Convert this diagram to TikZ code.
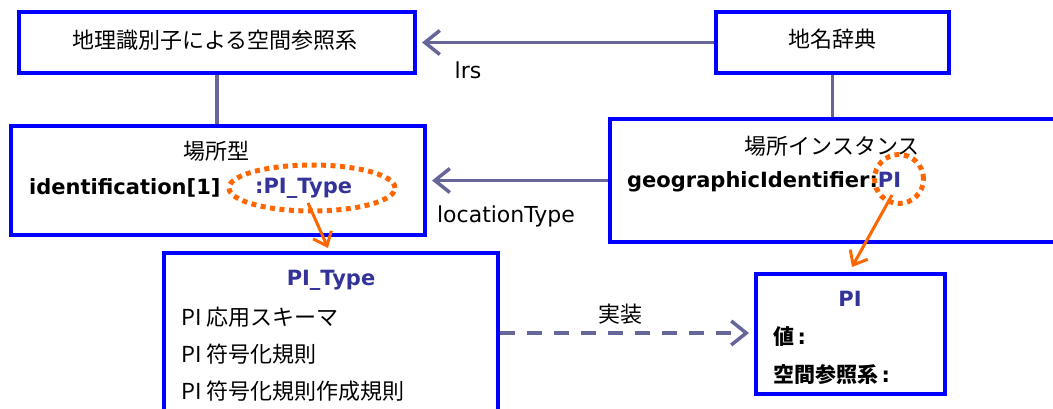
\documentclass[tikz,border=0pt]{standalone}
\usepackage{fontspec}
\setmainfont{DejaVu Sans}
\newfontfamily\jp{Noto Sans CJK JP}
\usetikzlibrary{arrows.meta,shapes.geometric}
\definecolor{boxblue}{HTML}{0000FF}
\definecolor{conncol}{HTML}{666699}
\definecolor{orng}{HTML}{FF6600}
\definecolor{tblue}{HTML}{333399}
\begin{document}
\begin{tikzpicture}[x=1pt,y=-1pt,
  box/.style={draw=boxblue,line width=4pt,inner sep=0,fill=white},
  txt/.style={inner sep=0,font=\fontsize{22}{26}\selectfont},
  btxt/.style={inner sep=0,font=\fontsize{21}{26}\selectfont\bfseries},
  conn/.style={draw=conncol,line width=3.5pt},
  barb/.style={-{Straight Barb[length=15pt,width=24pt,line width=3.5pt]}},
  obarb/.style={draw=orng,line width=3pt,-{Straight Barb[length=12pt,width=20pt,line width=3pt]}},
  dotring/.style={draw=orng,line width=5pt,dash pattern=on 5pt off 4.5pt}]
\useasboundingbox (0,0) rectangle (1053,409);
% boxes
\node[box,minimum width=396pt,minimum height=61pt] (A) at (217,42.5) {};
\node[box,minimum width=233pt,minimum height=61pt] (B) at (832.5,42.5) {};
\node[box,minimum width=414pt,minimum height=109pt] (C) at (218,180.5) {};
\node[box,minimum width=460pt,minimum height=123pt] (D) at (840,180.5) {};
\node[box,minimum width=334pt,minimum height=177pt] (E) at (331,341.5) {};
\node[box,minimum width=189pt,minimum height=120pt] (F) at (850.5,334) {};
% texts
\node[txt] (tA) at (215,40) {\jp 地理識別子による空間参照系};
\node[txt] (tB) at (832,39) {\jp 地名辞典};
\node[txt] (tC) at (216,151) {\jp 場所型};
\node[btxt,anchor=west] (tC1) at (29,188) {identification[1]};
\node[btxt,anchor=west,text=tblue] (tC2) at (255,188) {:PI\_Type};
\node[txt] (tD) at (832,146) {\jp 場所インスタンス};
\node[btxt,anchor=west] (tD1) at (627,182) {geographicIdentifier:\textcolor{tblue}{PI}};
\node[btxt,text=tblue] (tE) at (331,280) {PI\_Type};
\node[txt,anchor=west] (tE1) at (181,317) {\jp PI 応用スキーマ};
\node[txt,anchor=west] (tE2) at (181,354) {\jp PI 符号化規則};
\node[txt,anchor=west] (tE3) at (181,391) {\jp PI 符号化規則作成規則};
\node[btxt,text=tblue] (tF) at (850,299) {PI};
\node[btxt,anchor=west] (tF1) at (773,337) {{\jp\bfseries 値}\,:};
\node[btxt,anchor=west] (tF2) at (773,375) {{\jp\bfseries 空間参照系}\,:};
% orange rings
\node[dotring,ellipse,minimum width=166pt,minimum height=46pt,inner sep=0] (ring1) at (312,188) {};
\node[dotring,circle,minimum size=49pt,inner sep=0] (ring2) at (899,179) {};
% connectors
\draw[conn,barb,shorten >=5pt] (B.west) -- (A.east);
\node[txt] (lrs) at (468,70) {lrs};
\draw[conn] (A.south) -- (A.south |- C.north);
\draw[conn] (B.south) -- (B.south |- D.north);
\draw[conn,barb,shorten >=5pt] (D.west) -- (C.east);
\node[txt] (lt) at (506,216) {locationType};
\draw[conn,barb,dash pattern=on 15pt off 12pt,shorten >=5pt] (E.east |- 0,333) coordinate (eE) -- (F.west |- eE);
\node[txt] (impl) at (620,314) {\jp 実装};
% orange arrows
\coordinate (o1s) at (308,203);
\coordinate (o1e) at (328,248);
\coordinate (o2s) at (892,195);
\coordinate (o2e) at (852,267);
\draw[obarb] (o1s) -- (o1e);
\draw[obarb] (o2s) -- (o2e);
\end{tikzpicture}
\end{document}
